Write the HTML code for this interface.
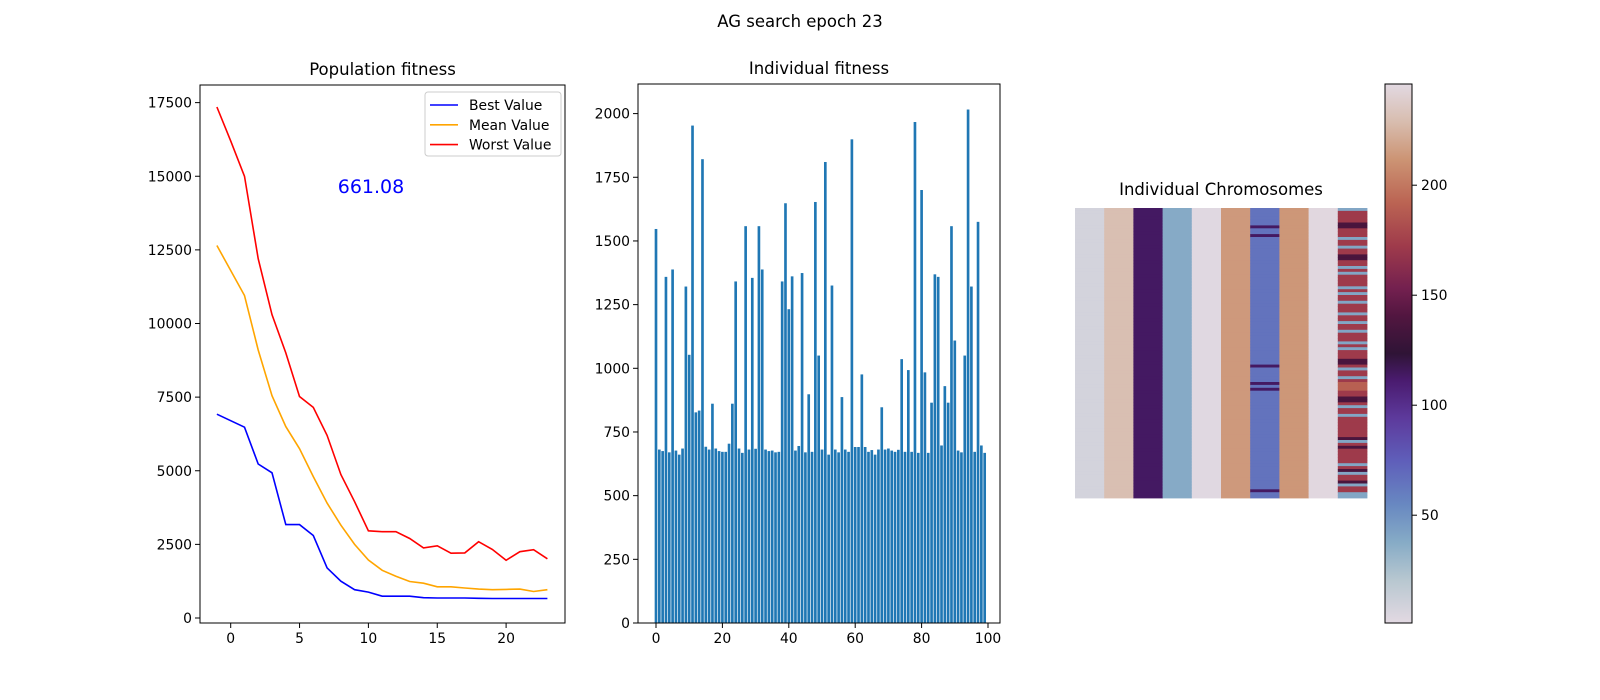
<!DOCTYPE html>
<html><head><meta charset="utf-8"><style>
html,body{margin:0;padding:0;background:#fff;}
svg{display:block;font-family:"DejaVu Sans","Liberation Sans",sans-serif;}
</style></head><body>
<svg id="fig" width="1600" height="700" viewBox="0 0 1600 700">
<defs><linearGradient id="cbgrad" x1="0" y1="1" x2="0" y2="0"></linearGradient></defs>
<text x="800" y="27" font-size="16.5" text-anchor="middle" fill="#000">AG search epoch 23</text>
<g id="left"></g>
<g id="mid"></g>
<g id="heat"></g>
</svg>
<script>
// ---- Population fitness data ----
const epochs = [-1,0,1,2,3,4,5,6,7,8,9,10,11,12,13,14,15,16,17,18,19,20,21,22,23];
const bestValues = [6920,6700,6480,5230,4930,3170,3170,2800,1700,1250,960,880,740,740,740,690,680,680,680,670,661,661,661,661,661];
const meanValues = [12650,11800,10950,9100,7550,6500,5750,4800,3900,3150,2500,1970,1620,1420,1240,1180,1060,1060,1020,980,960,970,980,900,960];
const worstValues = [17350,16200,15000,12200,10300,9000,7520,7150,6200,4870,3950,2960,2930,2930,2700,2380,2450,2200,2210,2590,2330,1960,2250,2320,2010];
const leftXTicks = [0,5,10,15,20];
const leftYTicks = [0,2500,5000,7500,10000,12500,15000,17500];
const bestLabel = "661.08";
// ---- Individual fitness data ----
const individualFitness = [1547,681,675,1359,670,1388,677,661,685,1321,1053,1953,827,834,1821,692,681,861,685,675,672,672,704,861,1341,685,668,1558,681,1355,684,1558,1388,681,675,677,670,672,1341,1648,1232,1361,677,695,1374,670,898,672,1653,1050,681,1810,661,1325,681,670,887,681,672,1899,691,691,976,691,672,679,661,681,847,681,685,677,672,680,1036,672,993,672,1967,668,1700,984,668,865,1369,1359,697,930,865,1558,1109,677,670,1050,2016,1321,672,1575,697,668];
const midXTicks = [0,20,40,60,80,100];
const midYTicks = [0,250,500,750,1000,1250,1500,1750,2000];
// ---- Chromosome data ----
const geneBase = [8,230,114,38,2,214,65,213,245,172];
const gene7Stripes = [6,9,54,60,62,97];
const gene10Blue = [0,10,13,20,22,27,29,32,36,39,42,46,48,55,58,68,71,80,88,91,95,98,99];
const gene10Dark = [5,6,16,17,52,53,65,66,79,82,90,94];
const gene10Light = [60,61,62];
const cbTicks = [50,100,150,200];

const NS = "http://www.w3.org/2000/svg";
function mk(parent, tag, attrs, text){
  const e = document.createElementNS(NS, tag);
  for (const k in attrs) e.setAttribute(k, attrs[k]);
  if (text !== undefined) e.textContent = text;
  parent.appendChild(e);
  return e;
}
const FS = 13.9;

// ===== Left chart =====
(function(){
  const g = document.getElementById('left');
  const L=200,R=565,T=85,B=623;
  const xS = v => 230.7 + v*13.77;
  const yS = v => 618 - v*0.02945;
  const t = mk(g,'text',{x:(L+R)/2,y:T-10,'font-size':16.5,'text-anchor':'middle'},'Population fitness');
   
  leftXTicks.forEach(v=>{
    const x=xS(v);
    const tk = mk(g,'line',{x1:x,x2:x,y1:B,y2:B+5,stroke:'#000','stroke-width':1});
     
    const lb = mk(g,'text',{x:x,y:B+20,'font-size':FS,'text-anchor':'middle'},String(v));
     
  });
  leftYTicks.forEach(v=>{
    const y=yS(v);
    const tk = mk(g,'line',{x1:L-5,x2:L,y1:y,y2:y,stroke:'#000','stroke-width':1});
     
    const lb = mk(g,'text',{x:L-8,y:y+5,'font-size':FS,'text-anchor':'end'},String(v));
     
  });
  const series = [[worstValues,'#ff0000','worst-value-line'],[meanValues,'#ffa500','mean-value-line'],[bestValues,'#0000ff','best-value-line']];
  series.forEach(([vals,col,name])=>{
    const pts = vals.map((v,i)=>xS(epochs[i]).toFixed(1)+','+yS(v).toFixed(1)).join(' ');
    const p = mk(g,'polyline',{points:pts,fill:'none',stroke:col,'stroke-width':1.6});
     
  });
  const bl = mk(g,'text',{x:371,y:193,'font-size':19,'text-anchor':'middle',fill:'#0000ff'},bestLabel);
   
  const fr = mk(g,'rect',{x:L,y:T,width:R-L,height:B-T,fill:'none',stroke:'#000','stroke-width':1});
   
  // legend
  const lg = mk(g,'g',{});
   
  mk(lg,'rect',{x:425,y:92,width:136,height:64,rx:3,fill:'#fff','fill-opacity':0.8,stroke:'#cccccc'});
  [['Best Value','#0000ff'],['Mean Value','#ffa500'],['Worst Value','#ff0000']].forEach(([lab,col],i)=>{
    const y = 105 + i*19.8;
    const e = mk(lg,'g',{});
     
    mk(e,'line',{x1:430,x2:458,y1:y,y2:y,stroke:col,'stroke-width':1.6});
    mk(e,'text',{x:469,y:y+5,'font-size':FS},lab);
  });
})();

// ===== Middle chart =====
(function(){
  const g = document.getElementById('mid');
  const L=638,R=1000,T=84,B=623;
  const xS = v => 656 + v*3.32;
  const yS = v => 623 - v*0.2547;
  const t = mk(g,'text',{x:(L+R)/2,y:T-10,'font-size':16.5,'text-anchor':'middle'},'Individual fitness');
   
  individualFitness.forEach((v,i)=>{
    const w=0.8*3.32;
    const b = mk(g,'rect',{x:xS(i)-w/2,y:yS(v),width:w,height:yS(0)-yS(v),fill:'#1f77b4'});
     
  });
  midXTicks.forEach(v=>{
    const x=xS(v);
    const tk = mk(g,'line',{x1:x,x2:x,y1:B,y2:B+5,stroke:'#000','stroke-width':1});
     
    const lb = mk(g,'text',{x:x,y:B+20,'font-size':FS,'text-anchor':'middle'},String(v));
     
  });
  midYTicks.forEach(v=>{
    const y=yS(v);
    const tk = mk(g,'line',{x1:L-5,x2:L,y1:y,y2:y,stroke:'#000','stroke-width':1});
     
    const lb = mk(g,'text',{x:L-8,y:y+5,'font-size':FS,'text-anchor':'end'},String(v));
     
  });
  const fr = mk(g,'rect',{x:L,y:T,width:R-L,height:B-T,fill:'none',stroke:'#000','stroke-width':1});
   
})();

// ===== Heatmap + colorbar =====
(function(){
  const stops = [[0,'#e2d9e2'],[0.08,'#b7c7d0'],[0.15,'#86abc6'],[0.22,'#6888c1'],[0.30,'#5f5fba'],[0.38,'#5d3a9c'],[0.45,'#4a1b6f'],[0.50,'#2f1436'],[0.57,'#521640'],[0.62,'#73204f'],[0.70,'#9f3b4b'],[0.78,'#bb6453'],[0.86,'#cc9474'],[0.93,'#d8bdaf'],[1,'#e2d9e2']];
  const VMIN=1,VMAX=246;
  const hx = h=>[parseInt(h.slice(1,3),16),parseInt(h.slice(3,5),16),parseInt(h.slice(5,7),16)];
  function cmap(v){
    let t=(v-VMIN)/(VMAX-VMIN); t=Math.max(0,Math.min(1,t));
    for(let i=1;i<stops.length;i++){
      if(t<=stops[i][0]){
        const a=stops[i-1],b=stops[i],f=(t-a[0])/(b[0]-a[0]);
        const A=hx(a[1]),B=hx(b[1]);
        return 'rgb('+A.map((c,k)=>Math.round(c+(B[k]-c)*f)).join(',')+')';
      }
    }
    return stops[stops.length-1][1];
  }
  const g = document.getElementById('heat');
  const L=1075,R=1367,T=208,B=498, rows=100, cols=geneBase.length;
  const cw=(R-L)/cols, rh=(B-T)/rows;
  const t = mk(g,'text',{x:(L+R)/2,y:T-13,'font-size':16.5,'text-anchor':'middle'},'Individual Chromosomes');
   
  for(let c=0;c<cols;c++){
    for(let r=0;r<rows;r++){
      let v=geneBase[c];
      if(c===6 && gene7Stripes.includes(r)) v=114;
      if(c===9){
        if(gene10Blue.includes(r)) v=40;
        else if(gene10Dark.includes(r)) v=136;
        else if(gene10Light.includes(r)) v=190;
      }
      const cell = mk(g,'rect',{x:(L+c*cw).toFixed(2),y:(T+r*rh).toFixed(2),width:(cw+0.4).toFixed(2),height:(rh+0.4).toFixed(2),fill:cmap(v)});
       
    }
  }
  // colorbar
  const cL=1385,cR=1412,cT=84,cB=623;
  const grad=document.getElementById('cbgrad');
  stops.forEach(s=>mk(grad,'stop',{offset:s[0],'stop-color':s[1]}));
  const cb = mk(g,'rect',{x:cL,y:cT,width:cR-cL,height:cB-cT,fill:'url(#cbgrad)',stroke:'#000','stroke-width':1});
   
  const yC = v => cB - (v-VMIN)/(VMAX-VMIN)*(cB-cT);
  cbTicks.forEach(v=>{
    const y=yC(v);
    const tk = mk(g,'line',{x1:cR,x2:cR+5,y1:y,y2:y,stroke:'#000','stroke-width':1});
     
    const lb = mk(g,'text',{x:cR+9,y:y+5,'font-size':FS},String(v));
     
  });
})();
</script>
</body></html>
